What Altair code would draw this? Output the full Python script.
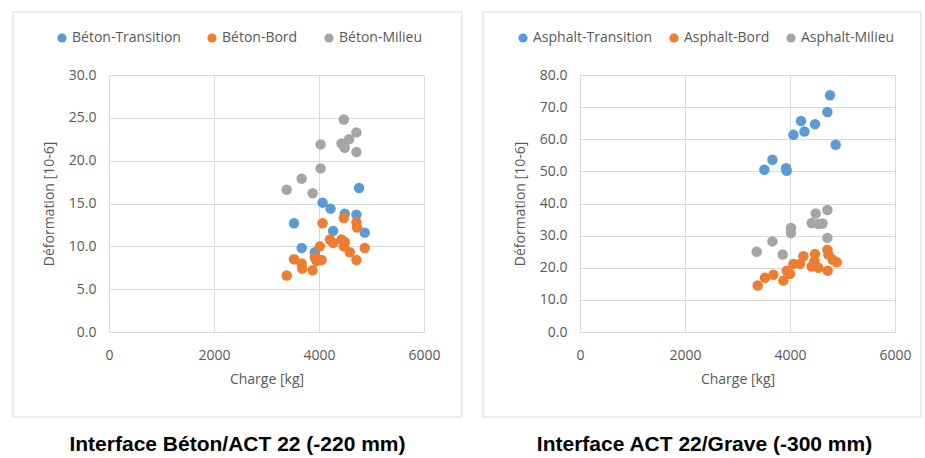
import altair as alt
import pandas as pd

# ---------------- Left panel: Interface Béton/ACT 22 (-220 mm) ----------------
left_series = ["Béton-Transition", "Béton-Bord", "Béton-Milieu"]

bt_charge = [4763, 4068, 4220, 4491, 4713, 3524, 4269, 4871, 3670, 3922]
bt_def = [16.8, 15.1, 14.4, 13.8, 13.7, 12.7, 11.8, 11.6, 9.8, 9.3]

bb_charge = [4068, 4472, 4713, 4725, 4207, 4429, 4491, 4269, 4017, 4472, 4586,
             4871, 3524, 3670, 3681, 3922, 3954, 4049, 3878, 4713, 3385]
bb_def = [12.7, 13.3, 12.8, 12.2, 10.8, 10.8, 10.5, 10.4, 10.0, 10.0, 9.3,
          9.8, 8.5, 8.0, 7.4, 8.7, 8.3, 8.4, 7.2, 8.4, 6.6]

bm_charge = [4472, 4713, 4573, 4429, 4491, 4713, 4030, 4030, 3670, 3385, 3879]
bm_def = [24.8, 23.3, 22.5, 22.0, 21.5, 21.0, 21.9, 19.1, 17.9, 16.6, 16.2]

# ---------------- Right panel: Interface ACT 22/Grave (-300 mm) ----------------
right_series = ["Asphalt-Transition", "Asphalt-Bord", "Asphalt-Milieu"]

at_charge = [4762, 4712, 4210, 4476, 4274, 4065, 4870, 3665, 3512, 3924, 3937]
at_def = [73.7, 68.5, 65.7, 64.7, 62.4, 61.4, 58.3, 53.6, 50.5, 51.0, 50.2]

ab_charge = [4712, 4731, 4476, 4255, 4465, 4890, 4813, 4065, 4190, 4413, 4541,
             4718, 3937, 4000, 3684, 3524, 3874, 3385]
ab_def = [25.6, 24.1, 24.3, 23.6, 22.0, 21.7, 22.5, 21.2, 21.2, 20.4, 20.0,
          19.1, 19.1, 18.1, 17.8, 16.9, 16.0, 14.5]

am_charge = [4712, 4490, 4413, 4541, 4620, 4019, 4019, 4712, 3665, 3366, 3861]
am_def = [38.0, 36.9, 33.9, 33.6, 33.8, 32.4, 30.8, 29.3, 28.2, 25.0, 24.1]

x_ticks = [0, 2000, 4000, 6000]
left_y_ticks = [0, 5, 10, 15, 20, 25, 30]
right_y_ticks = [0, 10, 20, 30, 40, 50, 60, 70, 80]

COLORS = ["#5B9BD5", "#ED7D31", "#A5A5A5"]
FONT = "Open Sans"
TXT = "#595959"
GRID = "#D9D9D9"


def make_df(series, xs_list, ys_list):
    rows = []
    for s, xs, ys in zip(series, xs_list, ys_list):
        for xv, yv in zip(xs, ys):
            rows.append({"charge": xv, "deformation": yv, "serie": s})
    return pd.DataFrame(rows)


left_df = make_df(left_series, [bt_charge, bb_charge, bm_charge], [bt_def, bb_def, bm_def])
right_df = make_df(right_series, [at_charge, ab_charge, am_charge], [at_def, ab_def, am_def])


def panel(df, series, ymax, yticks, title, legend_x, colpad, fx1, fx2, tdx):
    legend = alt.Legend(
        title=None, orient="none", legendX=legend_x, legendY=-44,
        direction="horizontal", columns=3, symbolType="circle", symbolSize=85,
        labelFont=FONT, labelFontSize=14, labelColor=TXT, columnPadding=colpad,
        labelOffset=3, symbolStrokeWidth=0, symbolOpacity=1,
    )
    pts = alt.Chart(df).mark_circle(size=110, opacity=1).encode(
        x=alt.X("charge:Q", scale=alt.Scale(domain=[0, 6000], nice=False),
                axis=alt.Axis(values=x_ticks, title="Charge [kg]", format="d")),
        y=alt.Y("deformation:Q", scale=alt.Scale(domain=[0, ymax], nice=False),
                axis=alt.Axis(values=yticks, title="Déformation [10-6]", format=".1f")),
        color=alt.Color("serie:N", scale=alt.Scale(domain=series, range=COLORS),
                        sort=series, legend=legend),
    )
    frame = alt.Chart(pd.DataFrame({"k": [0]})).mark_rect(
        fillOpacity=0, stroke=GRID, strokeWidth=1
    ).encode(x=alt.value(fx1), x2=alt.value(fx2), y=alt.value(-63), y2=alt.value(342))
    return alt.layer(frame, pts).properties(
        width=315, height=257,
        title=alt.TitleParams(title, orient="bottom", anchor="middle", fontSize=21,
                              font="Liberation Sans", fontWeight="bold", color="black",
                              offset=16, dx=tdx),
    )


left = panel(left_df, left_series, 30, left_y_ticks,
             "Interface Béton/ACT 22 (-220 mm)", -54, 24, -96, 353, -29)
right = panel(right_df, right_series, 80, right_y_ticks,
              "Interface ACT 22/Grave (-300 mm)", -64, 14, -97, 341, -33)

chart = alt.hconcat(left, right, spacing=19).resolve_scale(
    color="independent", x="independent", y="independent"
).properties(
    padding={"left": 12, "top": 11, "right": 0, "bottom": 0}
).configure_view(strokeWidth=0).configure_axis(
    labelFont=FONT, labelFontSize=14, labelColor=TXT,
    titleFont=FONT, titleFontSize=14, titleFontWeight="normal", titleColor=TXT,
    gridColor=GRID, domainColor=GRID, ticks=False, labelFlush=False,
).configure_axisX(labelPadding=16, titlePadding=10).configure_axisY(
    labelPadding=13, titlePadding=12
)

chart.save("out.html", embed_options={"renderer": "svg", "actions": False})
